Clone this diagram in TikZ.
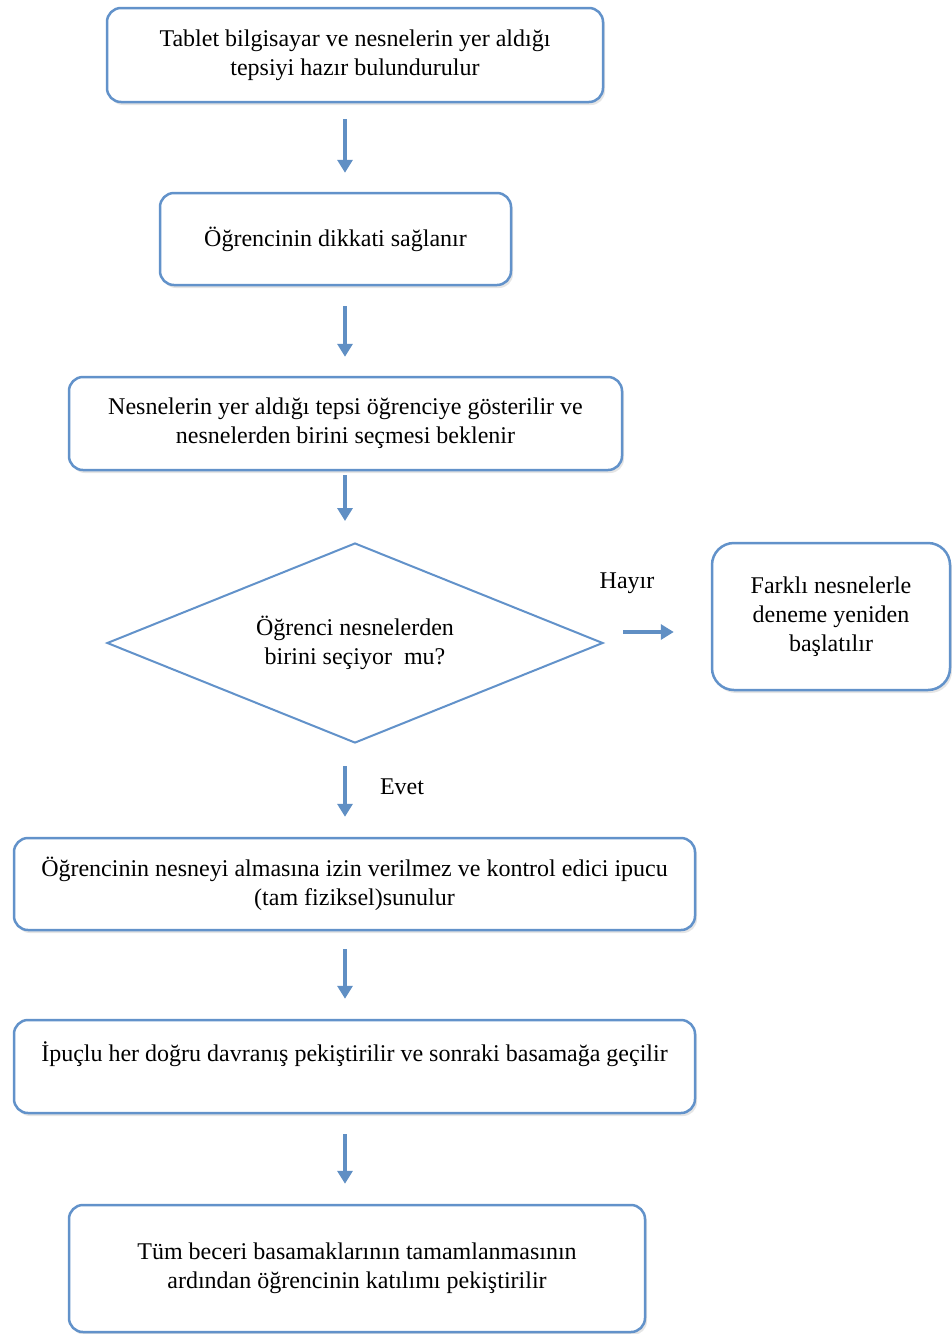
\documentclass[tikz,border=0pt]{standalone}
\usepackage{fontspec}
\setmainfont{Liberation Serif}
\usetikzlibrary{shapes.geometric,arrows.meta,shadows}
\definecolor{bord}{RGB}{98,146,202}
\definecolor{arrc}{RGB}{96,143,196}
\begin{document}
\begin{tikzpicture}[x=1pt,y=-1pt,
  txt/.style={font=\fontsize{24}{29}\selectfont, text=black},
  box/.style={txt, draw=bord, line width=2.5pt, rounded corners=14pt, align=center,
    inner sep=0pt, fill=white,
    drop shadow={shadow xshift=2pt, shadow yshift=-3pt, opacity=0.2}},
  dia/.style={txt, draw=bord, line width=2pt, diamond, shape aspect=2.48, align=center,
    inner sep=0pt, minimum width=496pt, minimum height=200pt},
  arr/.style={draw=arrc, line width=4pt, -{Triangle[width=15pt,length=13pt]}},
  lab/.style={txt}
]
\useasboundingbox (0,0) rectangle (952,1334);
\fill[white] (0,0) rectangle (952,1334);

\node[box, minimum width=496pt, minimum height=94pt] (b1) at (355,55)
  {Tablet bilgisayar ve nesnelerin yer aldığı\\tepsiyi hazır bulundurulur};
\node[box, minimum width=351pt, minimum height=92pt] (b2) at (335.5,239)
  {Öğrencinin dikkati sağlanır};
\node[box, minimum width=553pt, minimum height=93pt] (b3) at (345.5,423.5)
  {Nesnelerin yer aldığı tepsi öğrenciye gösterilir ve\\nesnelerden birini seçmesi beklenir};
\node[dia] (d) at (355,643) {Öğrenci nesnelerden\\birini seçiyor\ \ mu?};
\node[box, rounded corners=22pt, minimum width=238pt, minimum height=147pt] (r) at (831,616.5)
  {Farklı nesnelerle\\deneme yeniden\\başlatılır};
\node[box, minimum width=681pt, minimum height=92pt] (b5) at (354.5,884)
  {Öğrencinin nesneyi almasına izin verilmez ve kontrol edici ipucu\\(tam fiziksel)sunulur};
\node[box, minimum width=681pt, minimum height=93pt] (b6) at (354.5,1066.5)
  {İpuçlu her doğru davranış pekiştirilir ve sonraki basamağa geçilir\\\mbox{}};
\node[box, minimum width=576pt, minimum height=127pt] (b7) at (357,1268.5)
  {Tüm beceri basamaklarının tamamlanmasının\\ardından öğrencinin katılımı pekiştirilir};

\node[lab] (hayir) at (627,583) {Hayır};
\node[lab] (evet) at (402,787) {Evet};

\coordinate (ax) at (345,0);
\draw[arr, shorten <=16pt, shorten >=19pt] (ax |- b1.south) -- (ax |- b2.north);
\draw[arr, shorten <=20pt, shorten >=19pt] (ax |- b2.south) -- (ax |- b3.north);
\draw[arr, shorten <=4pt, shorten >=21pt] (ax |- b3.south) -- (ax |- d.north);
\draw[arr, shorten <=22pt, shorten >=20pt] (ax |- d.south) -- (ax |- b5.north);
\draw[arr, shorten <=18pt, shorten >=20pt] (ax |- b5.south) -- (ax |- b6.north);
\draw[arr, shorten <=20pt, shorten >=20pt] (ax |- b6.south) -- (ax |- b7.north);
\draw[arr, shorten <=19pt, shorten >=37pt] ([yshift=11pt]d.east) -- ([yshift=11pt]d.east -| r.west);
\end{tikzpicture}
\end{document}
